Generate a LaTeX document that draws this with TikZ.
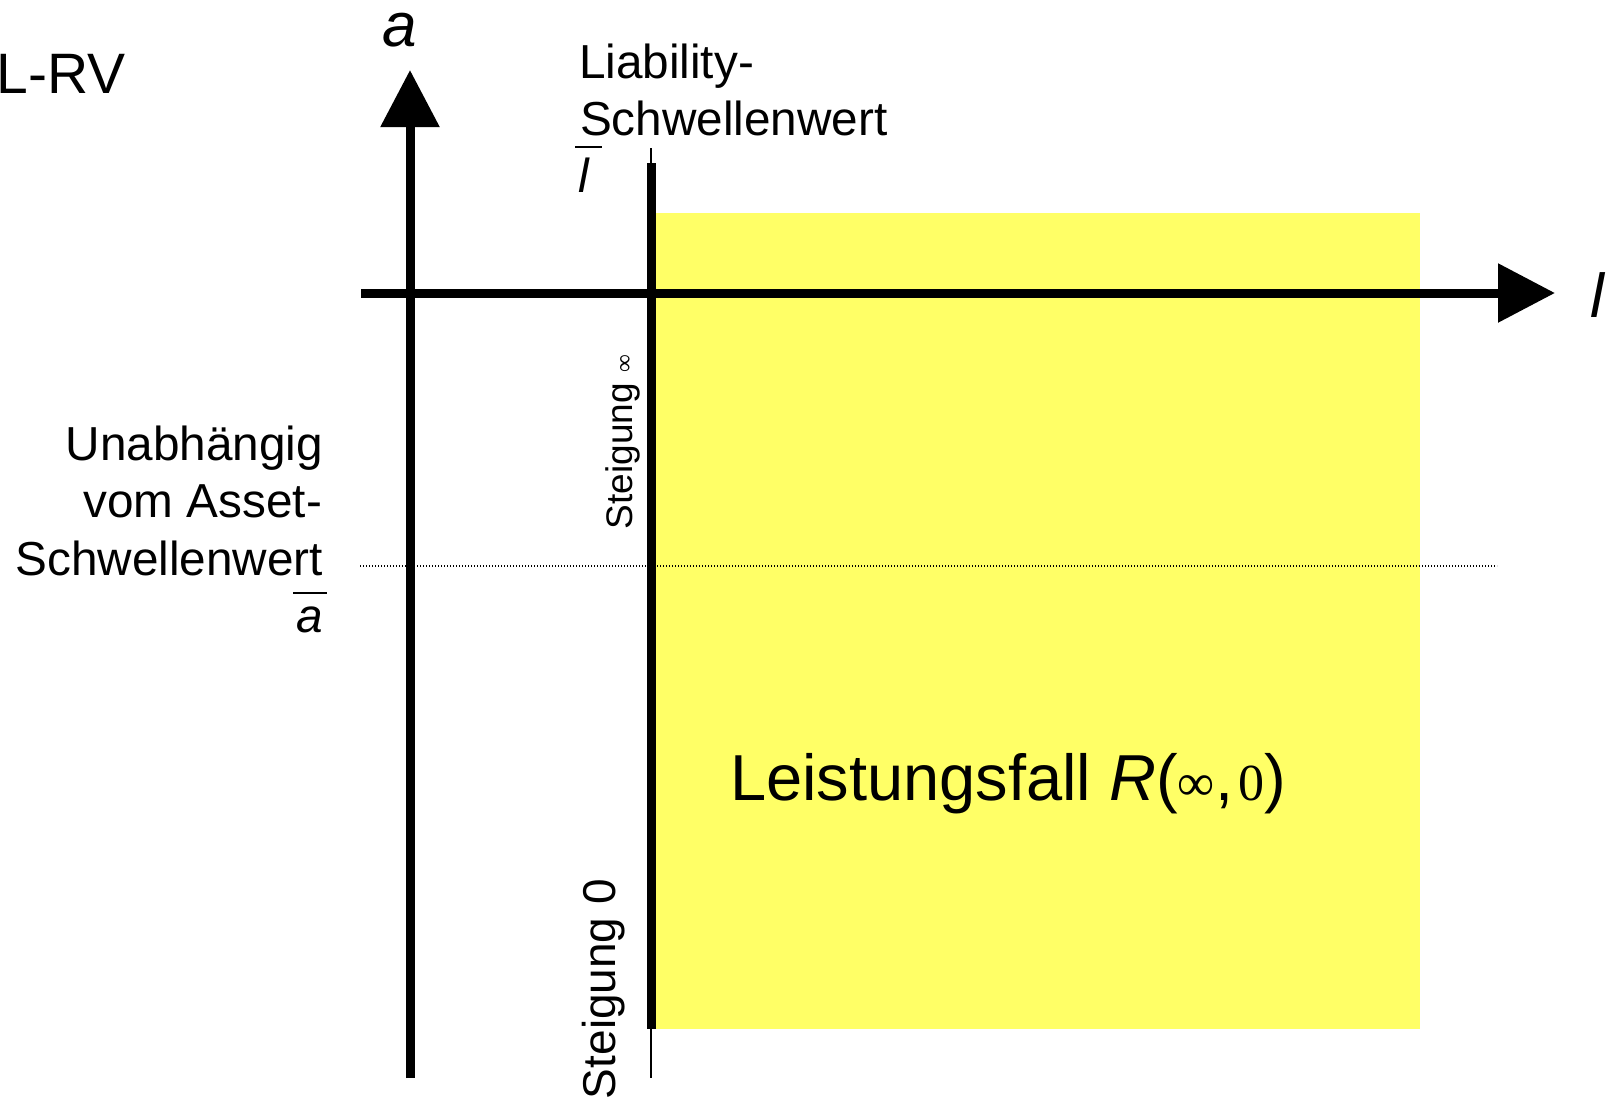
\documentclass[tikz,border=0pt]{standalone}
\usepackage{fontspec}
\setmainfont{Liberation Sans}
\newfontfamily\serifx{Liberation Serif}
\usetikzlibrary{arrows.meta}
\definecolor{fillyellow}{HTML}{FFFF66}
\begin{document}
\begin{tikzpicture}[x=1pt,y=-1pt,
  axis/.style={line width=9pt, -{Triangle[length=57pt,width=57pt]}},
  thickbar/.style={line width=9pt},
  thinline/.style={line width=1.5pt},
  barline/.style={line width=2pt},
  dotline/.style={line width=1.2pt, dash pattern=on 1.2pt off 1.8pt},
  txt/.style={inner sep=0pt, outer sep=0pt},
  big/.style={font=\fontsize{47.7}{57}\selectfont},
  bigit/.style={font=\fontsize{47.7}{57}\selectfont\itshape},
  axlab/.style={font=\fontsize{62}{62}\selectfont\itshape},
]
\useasboundingbox (0,0) rectangle (1614,1103);
% yellow region
\fill[fillyellow] (651,213) rectangle (1420,1029);
% dotted threshold line
\coordinate (dotL) at (360,566);
\coordinate (dotR) at (1497,566);
\draw[dotline] (dotL) -- (dotR);
% axes
\coordinate (abot) at (410,1078);
\coordinate (atop) at (410,70);
\coordinate (lleft) at (361,293);
\coordinate (lright) at (1555,293);
\draw[axis] (abot) -- (atop);
\draw[axis] (lleft) -- (lright);
% liability threshold line
\coordinate (tt) at (651,148);
\coordinate (tk1) at (651,163);
\coordinate (tk2) at (651,1029);
\coordinate (tb) at (651,1078);
\draw[thinline] (tt) -- (tb);
\draw[thickbar] (tk1) -- (tk2);
% labels
\node[txt, anchor=base west, font=\fontsize{57}{57}\selectfont] (lrv) at (-3,93) {L-RV};
\node[txt, anchor=base, axlab] (alab) at (400,46) {a};
\node[txt, anchor=base west, axlab] (llab) at (1590,317) {l};
\node[txt, anchor=base west, big] (liab1) at (579,78) {Liability-};
\node[txt, anchor=base west, big] (liab2) at (580,135) {Schwellenwert};
\node[txt, anchor=base west, bigit] (lsym) at (578,192) {l};
\draw[barline] ([xshift=-3pt,yshift=45pt]lsym.base west) -- ([xshift=24pt,yshift=45pt]lsym.base west);
\node[txt, anchor=base east, big] (un1) at (323,460) {Unabhängig};
\node[txt, anchor=base east, big] (un2) at (322,517) {vom Asset-};
\node[txt, anchor=base east, big] (un3) at (323,575) {Schwellenwert};
\node[txt, anchor=base east, bigit] (asym) at (323,632) {a};
\draw[barline] ([xshift=-30pt,yshift=39pt]asym.base east) -- ([xshift=4pt,yshift=39pt]asym.base east);
\node[txt, rotate=90, anchor=base west, font=\fontsize{37}{37}\selectfont] (st1) at (632,529) {Steigung {\fontsize{25}{25}\selectfont\serifx ∞}};
\node[txt, rotate=90, anchor=base west, font=\fontsize{46}{46}\selectfont] (st0) at (615,1099) {Steigung 0};
\node[txt, anchor=base west, font=\fontsize{65}{65}\selectfont] (lf) at (730,800) {Leistungsfall \textit{R}({\fontsize{52}{52}\selectfont\serifx ∞},\hspace{5pt}{\fontsize{52}{52}\selectfont\serifx 0})};
\end{tikzpicture}
\end{document}
